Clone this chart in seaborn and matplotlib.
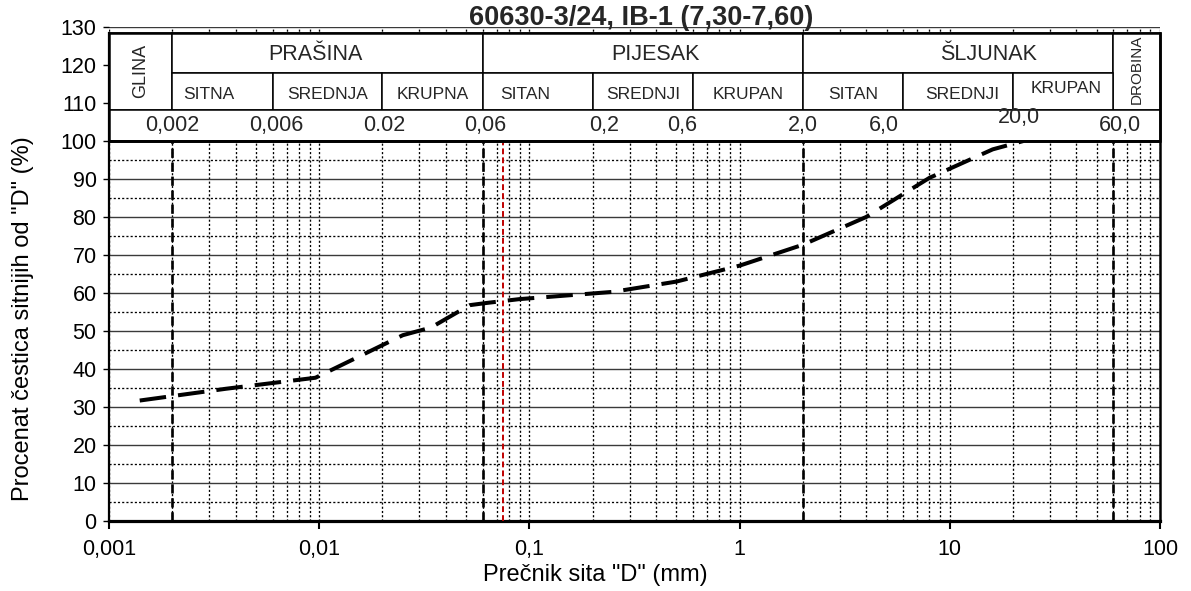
import matplotlib
matplotlib.use("Agg")
import matplotlib.pyplot as plt
import seaborn as sns
import pandas as pd
from matplotlib.patches import Rectangle
from matplotlib.ticker import FixedLocator, NullFormatter

# ---------------- data ----------------
title = "60630-3/24, IB-1 (7,30-7,60)"
diameter_mm = [0.0014, 0.0036, 0.0096, 0.025, 0.034, 0.052, 0.063, 0.09,
               0.125, 0.25, 0.5, 1.0, 2.0, 4.0, 8.0, 16.0, 22.4]
passing_pct = [31.7, 34.8, 37.7, 48.9, 50.9, 56.8, 57.4, 58.4,
               59.0, 60.3, 63.0, 67.2, 72.7, 80.0, 90.3, 97.8, 100.0]

x_ticks = [0.001, 0.01, 0.1, 1, 10, 100]
x_tick_labels = ["0,001", "0,01", "0,1", "1", "10", "100"]
y_ticks = list(range(0, 131, 10))
y_minor = list(range(5, 100, 10))

boundaries = [0.002, 0.06, 2.0, 60.0]
red_line = 0.075

main_groups = ["GLINA", "PRAŠINA", "PIJESAK", "ŠLJUNAK", "DROBINA"]
main_edges = [0.001, 0.002, 0.06, 2.0, 60.0, 100.0]
sub_groups = ["SITNA", "SREDNJA", "KRUPNA", "SITAN", "SREDNJI", "KRUPAN",
              "SITAN", "SREDNJI", "KRUPAN"]
sub_edges = [0.002, 0.006, 0.02, 0.06, 0.2, 0.6, 2.0, 6.0, 20.0, 60.0]
size_labels = ["0,002", "0,006", "0.02", "0,06", "0,2", "0,6", "2,0", "6,0", "20,0", "60,0"]

xlabel = 'Prečnik sita "D" (mm)'
ylabel = 'Procenat čestica sitnijih od "D" (%)'

# text nudges (in points) for header labels, purely layout
main_dx = {"PRAŠINA": -9, "PIJESAK": 9, "ŠLJUNAK": 22}
sub_dx = [-10, 0, 0, -9, 0, 0, 0, 3, 2]
sub_dy = [0, 0, 0, 0, 0, 0, 0, 0, 4]
size_dx = [0, 3, 1, 2, 8, -8, 0, -14, 4, 5]
size_dy = [0, 0, 0, 0, 0, 0, 0, 0, 6, 0]

# ---------------- style ----------------
sns.set_theme(style="white")
plt.rcParams["font.family"] = ["Liberation Sans", "DejaVu Sans"]

fig = plt.figure(figsize=(11.91, 5.91), dpi=100)
ax = fig.add_axes([109 / 1191, 1 - 521 / 591, (1160 - 109) / 1191, (521 - 27) / 591])

df = pd.DataFrame({"d": diameter_mm, "p": passing_pct})
sns.lineplot(data=df, x="d", y="p", ax=ax, color="black", linewidth=2.9,
             estimator=None, sort=False, zorder=6)
curve = ax.lines[-1]
curve.set_dashes([6.6, 3.0])
curve.set_dash_capstyle("butt")

ax.set_xscale("log")
ax.set_xlim(0.001, 100)
ax.set_ylim(0, 130)

ax.xaxis.set_major_locator(FixedLocator(x_ticks))
ax.set_xticklabels(x_tick_labels)
minors = [m * 10.0 ** e for e in range(-3, 2) for m in range(2, 10)]
ax.xaxis.set_minor_locator(FixedLocator(minors))
ax.xaxis.set_minor_formatter(NullFormatter())
ax.yaxis.set_major_locator(FixedLocator(y_ticks))
ax.yaxis.set_minor_locator(FixedLocator(y_minor))

ax.tick_params(axis="x", which="major", direction="out", length=6, width=1.5,
               labelsize=15.5, colors="black", pad=7)
ax.tick_params(axis="x", which="minor", length=0)
ax.tick_params(axis="y", which="major", direction="out", length=4, width=1,
               labelsize=15.5, colors="black", pad=5)
ax.tick_params(axis="y", which="minor", length=0)
ax.tick_params(axis="both", bottom=True, left=True)

# grid
ax.grid(False)
ax.yaxis.grid(True, which="major", color="#3a3a3a", linewidth=1.0, linestyle="-", zorder=1)
ax.yaxis.grid(True, which="minor", color="black", linewidth=0.95, linestyle=(0, (1.6, 1.6)), zorder=1)
ax.xaxis.grid(True, which="both", color="black", linewidth=0.95, linestyle=(0, (1.6, 1.6)), zorder=1)
ax.set_axisbelow(True)

for b in boundaries:
    ax.axvline(b, ymin=0, ymax=100 / 130, color="black", linewidth=1.9,
               linestyle=(0, (3.5, 1.8)), zorder=3)
ax.axvline(red_line, ymin=0, ymax=100 / 130, color="#c00000", linewidth=1.4,
           linestyle=(0, (3, 1.6)), zorder=3)

# spines
ax.spines["top"].set_visible(False)
for s in ["left", "right", "bottom"]:
    ax.spines[s].set_color("black")
ax.spines["left"].set_linewidth(1.6)
ax.spines["right"].set_linewidth(1.8)
ax.spines["bottom"].set_linewidth(2.3)
ax.spines["left"].set_bounds(0, 128.3)
ax.spines["right"].set_bounds(0, 128.3)

# ---------------- header table ----------------
y0, y1, y2, y3 = 100.0, 108.2, 118.0, 128.3
cell_lw = 1.1


def cell(xa, xb, ya, yb):
    ax.add_patch(Rectangle((xa, ya), xb - xa, yb - ya, facecolor="white",
                           edgecolor="black", linewidth=cell_lw, zorder=8,
                           clip_on=False))


def gmean(a, b):
    return (a * b) ** 0.5


def label(x, y, s, dx=0, dy=0, **kw):
    ax.annotate(s, xy=(x, y), xycoords="data", xytext=(dx, dy),
                textcoords="offset points", zorder=9, annotation_clip=False, **kw)


for i, name in enumerate(main_groups):
    xa, xb = main_edges[i], main_edges[i + 1]
    if name == "GLINA":
        cell(xa, xb, y1, y3)
        label(gmean(xa, xb), (y1 + y3) / 2 + 0.3, name, rotation=90, ha="center",
              va="center", fontsize=13)
    elif name == "DROBINA":
        cell(xa, xb, y1, y3)
        label(gmean(xa, xb), y3 - 0.4, name, rotation=90, ha="center",
              va="top", fontsize=11)
    else:
        cell(xa, xb, y2, y3)
        label(gmean(xa, xb), (y2 + y3) / 2 - 0.3, name, dx=main_dx[name],
              ha="center", va="center", fontsize=15.5)

for i, name in enumerate(sub_groups):
    xa, xb = sub_edges[i], sub_edges[i + 1]
    cell(xa, xb, y1, y2)
    label(gmean(xa, xb), (y1 + y2) / 2 - 0.8, name, dx=sub_dx[i], dy=sub_dy[i],
          ha="center", va="center", fontsize=12.5)

cell(main_edges[0], main_edges[-1], y0, y1)
for i, (xv, lab) in enumerate(zip(sub_edges, size_labels)):
    label(xv, (y0 + y1) / 2, lab, dx=size_dx[i], dy=size_dy[i],
          ha="center", va="center", fontsize=15.5)

# thick outer frame of the table
ax.add_patch(Rectangle((main_edges[0], y0), main_edges[-1] - main_edges[0], y3 - y0,
                       facecolor="none", edgecolor="black", linewidth=1.8,
                       zorder=10, clip_on=False))
ax.plot([main_edges[0], main_edges[-1]], [y0, y0], color="black", linewidth=2.0,
        zorder=11, solid_capstyle="butt")

# ---------------- labels ----------------
ax.set_xlabel(xlabel, fontsize=17, color="black")
ax.xaxis.set_label_coords((595 - 109) / 1051, -0.087)
ax.set_ylabel(ylabel, fontsize=17, color="black")
ax.yaxis.set_label_coords(-0.071, 0.41)
fig.text(641 / 1191, 1 - 18 / 591, title, ha="center", va="center",
         fontsize=19.5, fontweight="bold")

fig.savefig("out.png", dpi=100)
